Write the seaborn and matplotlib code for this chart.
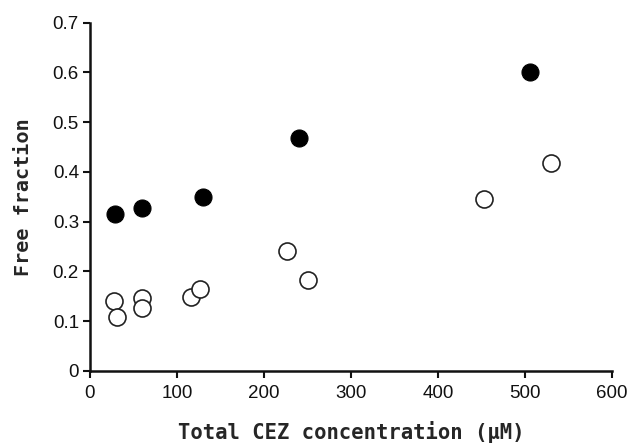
import matplotlib
matplotlib.use("Agg")
import matplotlib.pyplot as plt
import seaborn as sns
import pandas as pd

# Filled circles
filled_x = [29, 60, 130, 240, 506]
filled_y = [0.315, 0.327, 0.349, 0.469, 0.601]
# Open circles
open_x = [28, 31, 60, 60, 116, 126, 226, 251, 453, 530]
open_y = [0.141, 0.108, 0.147, 0.127, 0.148, 0.165, 0.241, 0.183, 0.346, 0.417]

x_ticks = [0, 100, 200, 300, 400, 500, 600]
y_ticks = [0, 0.1, 0.2, 0.3, 0.4, 0.5, 0.6, 0.7]
y_ticklabels = ["0", "0.1", "0.2", "0.3", "0.4", "0.5", "0.6", "0.7"]

sns.set_style("ticks")
plt.rcParams['font.family'] = ['Liberation Sans', 'DejaVu Sans']

df_f = pd.DataFrame({"x": filled_x, "y": filled_y})
df_o = pd.DataFrame({"x": open_x, "y": open_y})

fig = plt.figure(figsize=(6.32, 4.44), dpi=100)
ax = fig.add_axes([0.1424, 0.165, 0.8256, 0.784])

sns.scatterplot(data=df_o, x="x", y="y", ax=ax, s=150, facecolor="white",
                edgecolor="#222222", linewidth=1.2, zorder=3, clip_on=False)
sns.scatterplot(data=df_f, x="x", y="y", ax=ax, s=150, color="black",
                edgecolor="black", linewidth=0.8, zorder=4, clip_on=False)

ax.set_xlim(0, 600)
ax.set_ylim(0, 0.7)
ax.set_xticks(x_ticks)
ax.set_xticklabels([str(t) for t in x_ticks])
ax.set_yticks(y_ticks)
ax.set_yticklabels(y_ticklabels)
ax.tick_params(axis="both", labelsize=13.5, length=5, width=1.5, direction="out",
               colors="#111111", pad=3)
ax.tick_params(axis="x", pad=5)
for side in ["left", "bottom"]:
    ax.spines[side].set_linewidth(1.8)
    ax.spines[side].set_color("#111111")
sns.despine(ax=ax)

ax.set_xlabel("Total CEZ concentration (\u03bcM)", fontsize=14.8,
              fontweight="bold", family=["DejaVu Sans Mono"], labelpad=14)
ax.set_ylabel("Free fraction", fontsize=14.5, fontweight="bold",
              family=["DejaVu Sans Mono"], labelpad=14)

fig.savefig("out.png", dpi=100, facecolor="white")
